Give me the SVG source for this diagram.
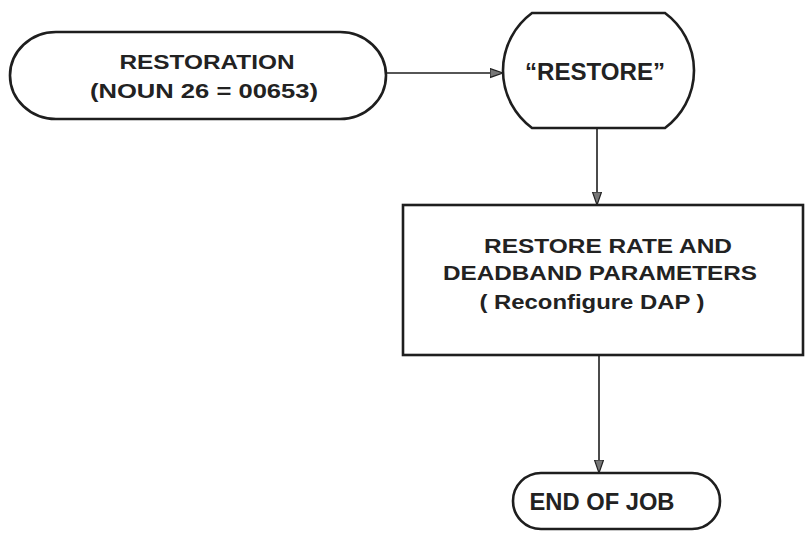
<svg xmlns="http://www.w3.org/2000/svg" width="811" height="542" viewBox="0 0 811 542">
<defs>
<marker id="arr" markerWidth="14" markerHeight="12" refX="13" refY="5" orient="auto" markerUnits="userSpaceOnUse">
<path d="M0,0.5 L13,5 L0,9.5 Z" fill="#777" stroke="#222" stroke-width="1.2" stroke-linejoin="miter"/>
</marker>
</defs>
<style>
.shape{fill:none;stroke:#1e1e1e;stroke-width:2.6;}
.conn{fill:none;stroke:#1e1e1e;stroke-width:1.6;}
.t{font-family:"Liberation Sans",Arial,sans-serif;font-weight:bold;fill:#222;text-anchor:middle;}
</style>
<rect width="811" height="542" fill="#ffffff"/>
<g id="connectors">
<line class="conn" x1="386" y1="73" x2="503" y2="73" marker-end="url(#arr)"/>
<line class="conn" x1="597" y1="128" x2="597" y2="205" marker-end="url(#arr)"/>
<line class="conn" x1="599" y1="355" x2="599" y2="473" marker-end="url(#arr)"/>
</g>
<g id="restoration">
<rect class="shape" x="10" y="32" width="376" height="87" rx="46" ry="43.5"/>
<text class="t" x="207" y="69" font-size="20" textLength="175" lengthAdjust="spacingAndGlyphs">RESTORATION</text>
<text class="t" x="204" y="98" font-size="20" textLength="228" lengthAdjust="spacingAndGlyphs">(NOUN 26 = 00653)</text>
</g>
<g id="restore">
<path class="shape" d="M532,13 L665,13 A71.5,71.5 0 0 1 665,128 L532,128 A71.5,71.5 0 0 1 532,13 Z"/>
<text class="t" x="595" y="80" font-size="24" textLength="140" lengthAdjust="spacingAndGlyphs">“RESTORE”</text>
</g>
<g id="restore-params">
<rect class="shape" x="403" y="205" width="400" height="150"/>
<text class="t" x="608" y="253" font-size="21" textLength="248" lengthAdjust="spacingAndGlyphs">RESTORE RATE AND</text>
<text class="t" x="600" y="280" font-size="21" textLength="314" lengthAdjust="spacingAndGlyphs">DEADBAND PARAMETERS</text>
<text class="t" x="592" y="309" font-size="21" textLength="225" lengthAdjust="spacingAndGlyphs">( Reconfigure DAP )</text>
</g>
<g id="end-of-job">
<rect class="shape" x="513" y="473" width="207" height="56" rx="28" ry="28"/>
<text class="t" x="602" y="510" font-size="23" textLength="145" lengthAdjust="spacingAndGlyphs">END OF JOB</text>
</g>
</svg>
